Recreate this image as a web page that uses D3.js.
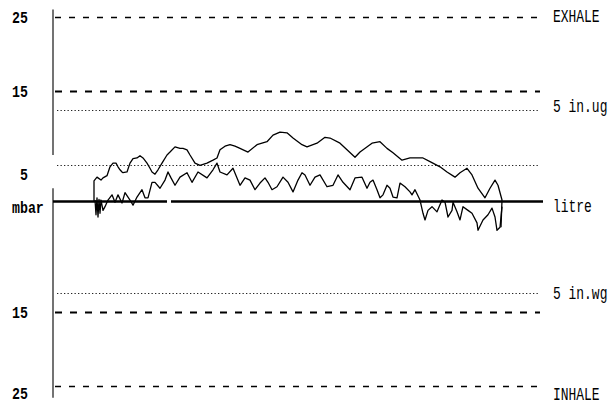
<!DOCTYPE html>
<html>
<head>
<meta charset="utf-8">
<script src="https://cdn.jsdelivr.net/npm/d3@7"></script>
<style>
  body { margin: 0; background: #fff; }
  svg { display: block; }
</style>
</head>
<body>
<svg id="chart"></svg>
<script>
// reference levels in mbar (5 in.wg is about 12.45 mbar)
const dashedLevels = [25, 15, -15, -25];
const dottedLevels = [12.45, 5, -12.45];

// tick labels on the left, with the mbar value they sit on
const leftValues = [25, 15, 5, 0, -15, -25];
const leftLabels = ["25", "15", " 5", "mbar", "15", "25"];

// labels on the right
const rightValues = [25, 12.45, 0, -12.45, -25];
const rightLabels = ["EXHALE", "5 in.ug", "litre", "5 in.wg", "INHALE"];

// trace 1 (the higher one), time in s and pressure in mbar
const traceATime = [4.1,4.1,4.4,4.5,4.8,5.0,5.4,5.7,6.0,6.3,6.5,6.7,6.9,7.0,7.4,7.7,8.0,8.4,8.7,9.0,
  9.4,9.7,9.9,10.2,10.5,10.9,11.4,11.7,12.2,12.7,13.0,13.4,13.7,14.2,14.7,15.4,16.0,16.4,16.7,17.2,
  17.7,18.2,18.7,19.5,20.4,21.4,22.0,22.7,23.4,24.0,24.9,25.4,26.4,27.2,27.7,28.7,29.4,30.2,30.7,31.9,
  32.7,33.4,34.0,34.9,35.7,37.0,37.7,38.7,39.4,40.2,40.7,41.4,41.9,42.5,43.2,43.7,44.2,44.5,44.9,44.8];
const traceAValue = [0.0,2.8,3.3,3.2,2.9,3.2,3.5,4.7,5.2,5.2,4.7,4.3,4.0,3.9,4.0,5.2,5.8,5.9,6.2,5.9,
  5.2,4.5,4.0,3.7,4.3,5.2,6.3,6.7,7.4,7.2,7.2,7.0,6.3,5.2,4.9,5.2,5.6,5.9,7.0,7.5,
  7.7,7.5,7.2,6.7,7.7,8.1,9.0,9.4,9.3,8.6,7.7,7.4,7.9,8.7,8.6,7.9,7.0,6.0,6.7,7.9,
  8.1,7.2,6.6,5.6,5.9,5.9,5.4,4.7,4.0,3.3,3.9,4.5,3.6,1.8,0.5,1.8,2.9,2.2,0.2,-3.5];

// trace 2 (the lower one)
const traceBTime = [4.2,4.3,4.4,4.5,4.6,4.7,4.8,5.0,5.2,5.5,5.9,6.2,6.5,6.9,7.2,7.7,8.0,8.4,8.9,9.2,
  9.5,9.9,10.2,10.7,11.2,11.5,11.8,12.2,12.7,13.4,13.9,14.5,15.4,16.0,16.4,16.7,17.4,18.0,18.7,19.2,
  19.7,20.2,20.7,21.2,21.5,21.9,22.4,23.0,23.5,24.0,24.5,24.9,25.2,25.7,26.2,26.7,27.4,28.0,28.5,29.0,
  29.7,30.2,30.9,31.4,31.7,32.0,32.4,32.7,33.0,33.4,33.7,34.0,34.4,34.7,35.2,35.7,35.9,36.2,36.7,37.0,
  37.2,37.5,37.9,38.4,38.9,39.2,39.5,39.9,40.0,40.4,40.7,41.0,41.5,41.9,42.4,42.5,43.0,43.5,43.9,44.2,
  44.4,44.7,44.9];
const traceBValue = [0.2,-1.8,0.5,-2.1,0.3,-1.6,0.2,-1.2,-0.7,0.2,0.9,-0.1,0.9,-0.2,1.2,0.2,-0.5,0.6,1.6,0.5,
  0.5,2.6,2.6,1.8,2.9,4.0,3.2,2.2,3.3,3.9,2.6,4.0,3.2,4.3,5.2,4.0,3.6,4.5,2.2,3.2,
  2.9,1.6,2.5,3.2,2.6,1.6,2.0,3.3,2.6,1.3,2.9,3.9,3.6,2.2,3.3,3.6,2.0,2.2,3.6,2.6,
  1.6,3.2,3.3,1.8,2.6,2.9,1.6,0.5,0.9,2.2,1.8,0.6,0.5,2.5,2.0,1.3,0.9,1.6,0.2,-1.6,
  -2.5,-1.2,-0.7,-1.4,0.2,-0.1,-2.1,-1.2,-0.1,-1.4,-2.5,-0.7,-1.2,-1.6,-2.9,-3.9,-2.5,-1.8,-0.9,-2.1,
  -3.9,-3.5,-0.7];

const width = 609;
const height = 405;

const svg = d3.select("#chart")
  .attr("width", width)
  .attr("height", height)
  .attr("viewBox", [0, 0, width, height]);

// scales
const x = d3.scaleLinear().domain([0, 48.7]).range([53, 540]);
const y = d3.scaleLinear().domain([-25, 25]).range([386, 17]);

// vertical axis, broken a little above the zero line like the print
const axisX = x(0);
[[26, 6.3], [1.8, -26.6]].forEach(([a, b]) => {
  svg.append("line")
    .attr("x1", axisX).attr("x2", axisX)
    .attr("y1", y(a)).attr("y2", y(b))
    .attr("stroke", "#444")
    .attr("stroke-width", 1.5);
});

// dashed limit lines
svg.append("g")
  .selectAll("line")
  .data(dashedLevels)
  .join("line")
  .attr("x1", x(0.2))
  .attr("x2", x(48.7))
  .attr("y1", d => Math.round(y(d)) + 0.5)
  .attr("y2", d => Math.round(y(d)) + 0.5)
  .attr("stroke", "#000")
  .attr("stroke-width", d => Math.abs(d) === 15 ? 2 : 1.5)
  .attr("stroke-dasharray", d => Math.abs(d) === 15 ? "7,8" : "6,8");

// dotted lines
svg.append("g")
  .selectAll("line")
  .data(dottedLevels)
  .join("line")
  .attr("x1", x(0.4))
  .attr("x2", x(48.7))
  .attr("y1", d => Math.round(y(d)) + 0.5)
  .attr("y2", d => Math.round(y(d)) + 0.5)
  .attr("stroke", "#222")
  .attr("stroke-width", 1.2)
  .attr("stroke-dasharray", "1.3,2.2");

// zero line (litre), with its small break
[[0, 11.4], [11.8, 49]].forEach(([a, b]) => {
  svg.append("line")
    .attr("x1", x(a)).attr("x2", x(b))
    .attr("y1", y(0)).attr("y2", y(0))
    .attr("stroke", "#000")
    .attr("stroke-width", 2.6);
});

// traces
const line = d3.line()
  .x(d => x(d[0]))
  .y(d => y(d[1]));

const traces = [
  d3.zip(traceATime, traceAValue),
  d3.zip(traceBTime, traceBValue)
];

svg.append("g")
  .selectAll("path")
  .data(traces)
  .join("path")
  .attr("d", line)
  .attr("fill", "none")
  .attr("stroke", "#000")
  .attr("stroke-width", 1.3)
  .attr("stroke-linejoin", "round");

// left labels
const leftShift = [6, 6, 15, 11, 6, 13];
svg.append("g")
  .selectAll("text")
  .data(leftLabels)
  .join("text")
  .attr("transform", (d, i) => `translate(12,${y(leftValues[i]) + leftShift[i]}) scale(0.78,1)`)
  .attr("font-family", "Liberation Mono, DejaVu Sans Mono, monospace")
  .attr("font-weight", "bold")
  .attr("font-size", 17)
  .style("white-space", "pre")
  .text(d => d);

// right labels
const rightShift = [5, 2, 10, 6, 14];
svg.append("g")
  .selectAll("text")
  .data(rightLabels)
  .join("text")
  .attr("transform", (d, i) => `translate(553,${y(rightValues[i]) + rightShift[i]}) scale(0.72,1)`)
  .attr("font-family", "Liberation Mono, DejaVu Sans Mono, monospace")
  .attr("font-size", 18)
  .style("white-space", "pre")
  .text(d => d);
</script>
</body>
</html>
